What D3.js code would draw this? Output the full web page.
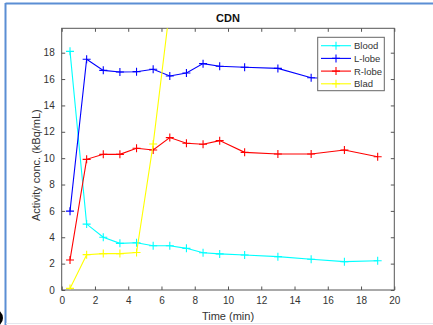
<!DOCTYPE html>
<html>
<head>
<meta charset="utf-8">
<script src="https://cdn.jsdelivr.net/npm/d3@7"></script>
<style>
  html, body { margin: 0; padding: 0; background: #fff; }
  svg { display: block; font-family: "Liberation Sans", Arial, sans-serif; }
</style>
</head>
<body>
<svg id="chart" width="433" height="325"></svg>
<script>
// Time points (min) and activity concentrations (kBq/mL)
const times = [0.5, 1.5, 2.5, 3.5, 4.5, 5.5, 6.5, 7.5, 8.5, 9.5, 11, 13, 15, 17, 19];
const blood = [18.1, 5.0, 4.0, 3.54, 3.58, 3.36, 3.36, 3.16, 2.83, 2.74, 2.65, 2.53, 2.33, 2.15, 2.22];
const lLobe = [5.98, 17.5, 16.66, 16.54, 16.56, 16.74, 16.23, 16.46, 17.17, 16.97, 16.89, 16.81, 16.1, 16.0, 15.9];
const rLobe = [2.28, 9.91, 10.29, 10.29, 10.75, 10.62, 11.56, 11.13, 11.05, 11.33, 10.44, 10.32, 10.32, 10.62, 10.11];
const bladTimes = [0.5, 1.5, 2.5, 3.5, 4.5, 5.5, 6.5];
const blad = [0.12, 2.68, 2.76, 2.76, 2.84, 11.07, 21.4];

const seriesNames = ["Blood", "L-lobe", "R-lobe", "Blad"];
const seriesColors = ["#00ffff", "#0000ff", "#ff0000", "#ffff00"];
const xTicks = [0, 2, 4, 6, 8, 10, 12, 14, 16, 18, 20];
const yTicks = [0, 2, 4, 6, 8, 10, 12, 14, 16, 18];

const series = [
  { name: seriesNames[0], color: seriesColors[0], pts: times.map((t, i) => [t, blood[i]]) },
  { name: seriesNames[1], color: seriesColors[1], pts: times.map((t, i) => [t, lLobe[i]]) },
  { name: seriesNames[2], color: seriesColors[2], pts: times.map((t, i) => [t, rLobe[i]]) },
  { name: seriesNames[3], color: seriesColors[3], pts: bladTimes.map((t, i) => [t, blad[i]]) }
];

const svg = d3.select("#chart");

// window frame
svg.append("line").attr("x1", 5.5).attr("x2", 433).attr("y1", 3.5).attr("y2", 3.5)
  .attr("stroke", "#5b8ed4").attr("stroke-width", 2);
svg.append("line").attr("x1", 5.5).attr("x2", 5.5).attr("y1", 3).attr("y2", 325)
  .attr("stroke", "#5b8ed4").attr("stroke-width", 2);
svg.append("line").attr("x1", 6).attr("x2", 433).attr("y1", 323.5).attr("y2", 323.5)
  .attr("stroke", "#e4e8ee").attr("stroke-width", 1);
svg.append("path").attr("d", d3.arc()({ innerRadius: 6, outerRadius: 9, startAngle: 0, endAngle: Math.PI }))
  .attr("transform", "translate(-6,318)").attr("fill", "#000");

const L = 61.7, R = 394.3, T = 28.3, B = 290;
const x = d3.scaleLinear().domain([0, 20]).range([L, R]);
const y = d3.scaleLinear().domain([0, 19.85]).range([B, T]);

const axisColor = "#555";
const tickLen = 3.5;

function styleAxis(g, showLabels) {
  g.select(".domain").remove();
  g.selectAll(".tick line").attr("stroke", axisColor);
  g.selectAll(".tick text").attr("fill", "#333").style("font-size", "10px");
  if (!showLabels) g.selectAll(".tick text").remove();
}

svg.append("g").attr("transform", `translate(0,${B})`)
  .call(d3.axisBottom(x).tickValues(xTicks).tickSizeInner(-tickLen).tickSizeOuter(0).tickPadding(7))
  .call(g => styleAxis(g, true));
svg.append("g").attr("transform", `translate(0,${T})`)
  .call(d3.axisTop(x).tickValues(xTicks).tickSizeInner(-tickLen).tickSizeOuter(0).tickFormat(""))
  .call(g => styleAxis(g, false));
svg.append("g").attr("transform", `translate(${L},0)`)
  .call(d3.axisLeft(y).tickValues(yTicks).tickSizeInner(-tickLen).tickSizeOuter(0).tickPadding(7))
  .call(g => styleAxis(g, true));
svg.append("g").attr("transform", `translate(${R},0)`)
  .call(d3.axisRight(y).tickValues(yTicks).tickSizeInner(-tickLen).tickSizeOuter(0).tickFormat(""))
  .call(g => styleAxis(g, false));

// plot box
svg.append("rect").attr("x", L).attr("y", T).attr("width", R - L).attr("height", B - T)
  .attr("fill", "none").attr("stroke", axisColor).attr("stroke-width", 1);

svg.append("clipPath").attr("id", "plotClip")
  .append("rect").attr("x", L).attr("y", T).attr("width", R - L).attr("height", B - T);

const line = d3.line().x(d => x(d[0])).y(d => y(d[1]));
const m = 4;
const plot = svg.append("g").attr("clip-path", "url(#plotClip)");

series.forEach(s => {
  const g = plot.append("g");
  g.append("path").datum(s.pts).attr("d", line)
    .attr("fill", "none").attr("stroke", s.color).attr("stroke-width", 1.1);
  g.selectAll("path.mk").data(s.pts).join("path").attr("class", "mk")
    .attr("d", d => `M${x(d[0]) - m},${y(d[1])}h${2 * m}M${x(d[0])},${y(d[1]) - m}v${2 * m}`)
    .attr("stroke", s.color).attr("stroke-width", 1.1).attr("fill", "none");
});

// title and axis labels
svg.append("text").attr("x", (L + R) / 2).attr("y", 22).attr("text-anchor", "middle")
  .style("font-size", "11px").style("font-weight", "bold").attr("fill", "#111").text("CDN");
svg.append("text").attr("x", (L + R) / 2).attr("y", 320).attr("text-anchor", "middle")
  .style("font-size", "11px").attr("fill", "#333").text("Time (min)");
svg.append("text").attr("transform", `translate(40,${(T + B) / 2 + 6}) rotate(-90)`)
  .attr("text-anchor", "middle").style("font-size", "11px").attr("fill", "#333")
  .text("Activity conc. (kBq/mL)");

// legend
const lg = svg.append("g");
lg.append("rect").attr("x", 317.7).attr("y", 37.3).attr("width", 66.6).attr("height", 53.4)
  .attr("fill", "#fff").attr("stroke", "#666").attr("stroke-width", 1);
series.forEach((s, i) => {
  const yy = 45.7 + i * 12.7;
  lg.append("line").attr("x1", 321).attr("x2", 351).attr("y1", yy).attr("y2", yy)
    .attr("stroke", s.color).attr("stroke-width", 1.1);
  lg.append("path").attr("d", `M${336 - m},${yy}h${2 * m}M336,${yy - m}v${2 * m}`)
    .attr("stroke", s.color).attr("stroke-width", 1.1);
  lg.append("text").attr("x", 354).attr("y", yy + 3.5).style("font-size", "9.5px")
    .attr("fill", "#333").text(s.name);
});
</script>
</body>
</html>
